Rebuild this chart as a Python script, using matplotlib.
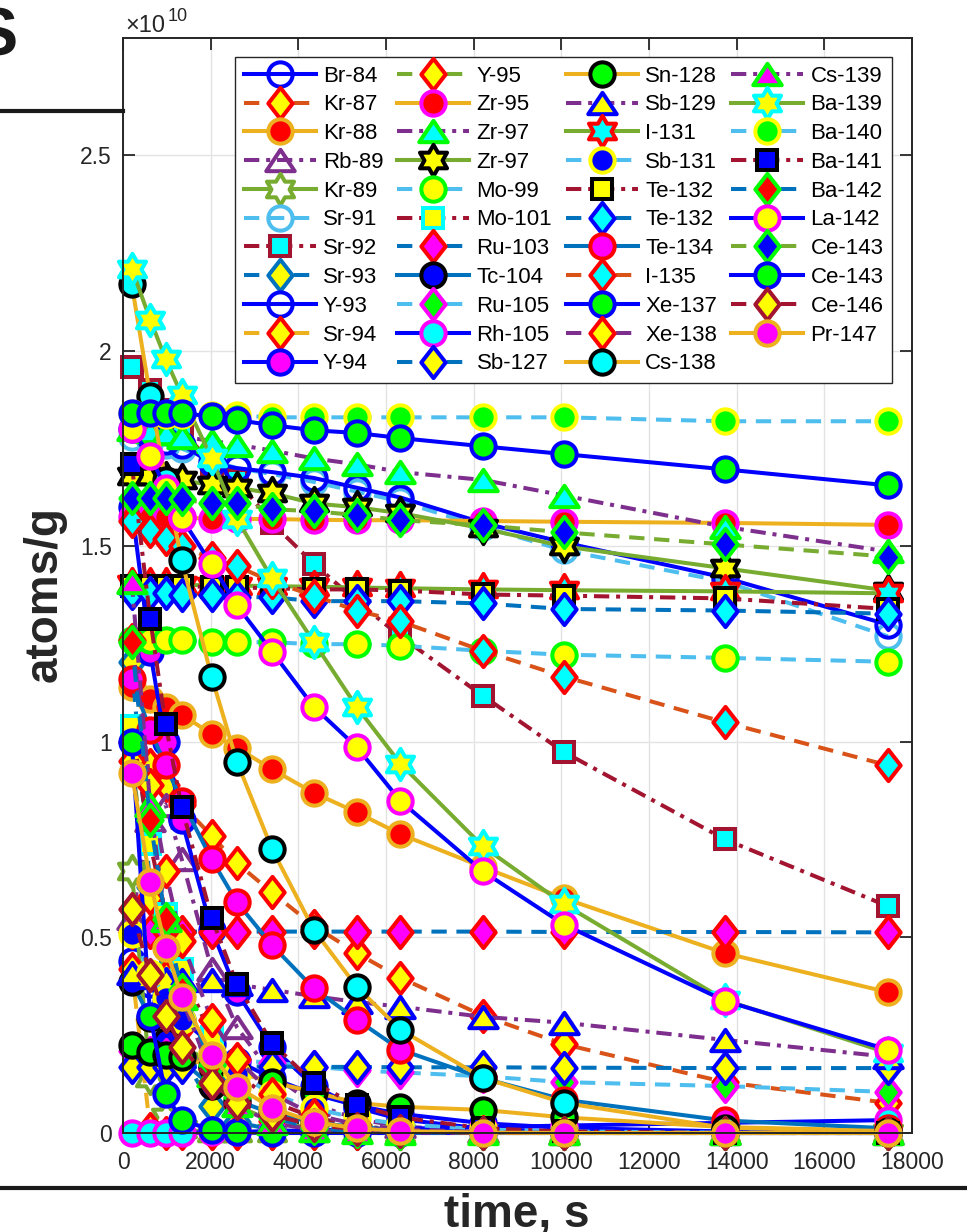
import numpy as np
import matplotlib.pyplot as plt
from matplotlib.lines import Line2D
from matplotlib.path import Path
from matplotlib.ticker import MultipleLocator, FuncFormatter

plt.rcParams['font.family'] = ['Liberation Sans', 'DejaVu Sans']

# sampling times, s
t = [200, 620, 970, 1340, 2020, 2600, 3400, 4350, 5330, 6330, 8210, 10060, 13730, 17450]

# atoms/g, in units of 1e10
br84 = [0.44, 0.38, 0.335, 0.29, 0.227, 0.185, 0.14, 0.10, 0.07, 0.049, 0.025, 0.013, 0.004, 0.001]
kr87 = [1.0, 0.94, 0.89, 0.84, 0.76, 0.69, 0.615, 0.53, 0.46, 0.397, 0.30, 0.227, 0.13, 0.077]
kr88 = [1.14, 1.11, 1.09, 1.07, 1.02, 0.985, 0.93, 0.87, 0.82, 0.764, 0.68, 0.60, 0.46, 0.36]
rb89 = [0.55, 0.80, 0.84, 0.70, 0.42, 0.27, 0.15, 0.074, 0.036, 0.017, 0.004, 0.001, 0.0, 0.0]
kr89 = [0.67, 0.14, 0.04, 0.01, 0.001, 0.0, 0.0, 0.0, 0.0, 0.0, 0.0, 0.0, 0.0, 0.0]
sr91 = [1.78, 1.77, 1.76, 1.75, 1.72, 1.70, 1.685, 1.665, 1.64, 1.615, 1.55, 1.49, 1.41, 1.27]
sr92 = [1.96, 1.90, 1.85, 1.80, 1.71, 1.67, 1.56, 1.456, 1.36, 1.27, 1.118, 0.974, 0.751, 0.58]
sr93 = [1.205, 0.63, 0.36, 0.20, 0.07, 0.028, 0.008, 0.002, 0.0, 0.0, 0.0, 0.0, 0.0, 0.0]
y93 = [1.80, 1.78, 1.77, 1.76, 1.713, 1.70, 1.69, 1.675, 1.65, 1.625, 1.56, 1.51, 1.42, 1.30]
sr94 = [0.42, 0.01, 0.0, 0.0, 0.0, 0.0, 0.0, 0.0, 0.0, 0.0, 0.0, 0.0, 0.0, 0.0]
y94 = [1.60, 1.23, 1.0, 0.80, 0.52, 0.36, 0.22, 0.12, 0.065, 0.035, 0.011, 0.003, 0.0, 0.0]
y95 = [0.95, 0.60, 0.40, 0.27, 0.13, 0.07, 0.03, 0.01, 0.005, 0.001, 0.0, 0.0, 0.0, 0.0]
zr95 = [1.575, 1.575, 1.575, 1.575, 1.57, 1.57, 1.57, 1.568, 1.567, 1.567, 1.565, 1.563, 1.56, 1.555]
zr97a = [1.80, 1.795, 1.79, 1.78, 1.77, 1.76, 1.745, 1.725, 1.71, 1.69, 1.67, 1.63, 1.55, 1.487]
zr97b = [1.68, 1.68, 1.675, 1.67, 1.656, 1.65, 1.636, 1.61, 1.60, 1.585, 1.546, 1.50, 1.444, 1.387]
mo99 = [1.26, 1.26, 1.26, 1.26, 1.255, 1.255, 1.255, 1.25, 1.25, 1.246, 1.233, 1.223, 1.215, 1.205]
mo101 = [1.04, 0.74, 0.56, 0.42, 0.245, 0.155, 0.08, 0.04, 0.018, 0.008, 0.002, 0.0, 0.0, 0.0]
ru103 = [0.515, 0.515, 0.515, 0.515, 0.515, 0.515, 0.515, 0.515, 0.515, 0.515, 0.515, 0.514, 0.514, 0.513]
tc104 = [0.385, 0.295, 0.235, 0.185, 0.12, 0.083, 0.05, 0.027, 0.015, 0.008, 0.002, 0.001, 0.0, 0.0]
ru105 = [0.21, 0.205, 0.20, 0.195, 0.19, 0.185, 0.18, 0.17, 0.16, 0.155, 0.145, 0.13, 0.12, 0.105]
rh105 = [0.0, 0.0, 0.0, 0.0, 0.002, 0.003, 0.005, 0.007, 0.009, 0.011, 0.015, 0.019, 0.026, 0.033]
sb127 = [0.17, 0.17, 0.17, 0.17, 0.17, 0.17, 0.17, 0.169, 0.169, 0.168, 0.168, 0.167, 0.166, 0.166]
sn128 = [0.226, 0.208, 0.20, 0.195, 0.17, 0.155, 0.13, 0.105, 0.077, 0.067, 0.059, 0.04, 0.015, 0.006]
sb129 = [0.41, 0.40, 0.395, 0.39, 0.39, 0.38, 0.366, 0.35, 0.335, 0.323, 0.297, 0.282, 0.238, 0.195]
i131 = [1.405, 1.405, 1.403, 1.402, 1.40, 1.40, 1.398, 1.397, 1.395, 1.393, 1.39, 1.388, 1.385, 1.38]
sb131 = [0.51, 0.41, 0.345, 0.29, 0.205, 0.152, 0.10, 0.063, 0.038, 0.023, 0.009, 0.004, 0.001, 0.0]
te132a = [1.40, 1.40, 1.40, 1.40, 1.395, 1.395, 1.393, 1.39, 1.39, 1.387, 1.377, 1.374, 1.367, 1.34]
te132b = [1.38, 1.38, 1.38, 1.375, 1.375, 1.37, 1.37, 1.36, 1.36, 1.36, 1.354, 1.34, 1.336, 1.328]
te134 = [1.16, 1.03, 0.94, 0.85, 0.70, 0.59, 0.48, 0.37, 0.29, 0.213, 0.14, 0.085, 0.032, 0.012]
i135 = [1.565, 1.54, 1.52, 1.50, 1.47, 1.449, 1.41, 1.374, 1.336, 1.308, 1.233, 1.167, 1.05, 0.94]
xe137 = [1.0, 0.30, 0.10, 0.033, 0.008, 0.002, 0.0, 0.0, 0.0, 0.0, 0.0, 0.0, 0.0, 0.0]
xe138 = [1.26, 0.89, 0.67, 0.49, 0.29, 0.19, 0.10, 0.047, 0.022, 0.01, 0.002, 0.0, 0.0, 0.0]
cs138 = [2.17, 1.885, 1.67, 1.464, 1.167, 0.949, 0.726, 0.52, 0.374, 0.264, 0.141, 0.077, 0.013, 0.005]
cs139 = [1.41, 0.84, 0.545, 0.345, 0.148, 0.071, 0.026, 0.008, 0.002, 0.001, 0.0, 0.0, 0.0, 0.0]
ba139 = [2.21, 2.08, 1.98, 1.887, 1.726, 1.57, 1.418, 1.256, 1.09, 0.944, 0.733, 0.585, 0.34, 0.205]
ba140 = [1.84, 1.84, 1.835, 1.835, 1.835, 1.835, 1.83, 1.83, 1.83, 1.83, 1.83, 1.83, 1.82, 1.82]
ba141 = [1.71, 1.315, 1.046, 0.833, 0.551, 0.38, 0.23, 0.128, 0.072, 0.04, 0.012, 0.004, 0.0, 0.0]
ba142 = [1.256, 0.80, 0.546, 0.365, 0.175, 0.093, 0.039, 0.013, 0.004, 0.001, 0.0, 0.0, 0.0, 0.0]
la142 = [1.80, 1.731, 1.65, 1.572, 1.454, 1.349, 1.231, 1.09, 0.987, 0.849, 0.669, 0.533, 0.338, 0.213]
ce143a = [1.625, 1.625, 1.625, 1.62, 1.61, 1.61, 1.595, 1.59, 1.58, 1.567, 1.554, 1.536, 1.505, 1.474]
ce143b = [1.84, 1.84, 1.84, 1.84, 1.833, 1.823, 1.81, 1.797, 1.79, 1.777, 1.756, 1.736, 1.697, 1.656]
ce146 = [0.572, 0.405, 0.298, 0.22, 0.128, 0.077, 0.046, 0.02, 0.01, 0.004, 0.0, 0.0, 0.0, 0.0]
pr147 = [0.92, 0.643, 0.474, 0.349, 0.20, 0.118, 0.064, 0.028, 0.012, 0.005, 0.001, 0.0, 0.0, 0.0]

labels = ['Br-84', 'Kr-87', 'Kr-88', 'Rb-89', 'Kr-89', 'Sr-91', 'Sr-92', 'Sr-93', 'Y-93', 'Sr-94', 'Y-94',
          'Y-95', 'Zr-95', 'Zr-97', 'Zr-97', 'Mo-99', 'Mo-101', 'Ru-103', 'Tc-104', 'Ru-105', 'Rh-105', 'Sb-127',
          'Sn-128', 'Sb-129', 'I-131', 'Sb-131', 'Te-132', 'Te-132', 'Te-134', 'I-135', 'Xe-137', 'Xe-138', 'Cs-138',
          'Cs-139', 'Ba-139', 'Ba-140', 'Ba-141', 'Ba-142', 'La-142', 'Ce-143', 'Ce-143', 'Ce-146', 'Pr-147']
series = [br84, kr87, kr88, rb89, kr89, sr91, sr92, sr93, y93, sr94, y94,
          y95, zr95, zr97a, zr97b, mo99, mo101, ru103, tc104, ru105, rh105, sb127,
          sn128, sb129, i131, sb131, te132a, te132b, te134, i135, xe137, xe138, cs138,
          cs139, ba139, ba140, ba141, ba142, la142, ce143a, ce143b, ce146, pr147]

# matlab colours
B1, OR, YE, PU, GR, LB, DR = '#0072BD', '#D95319', '#EDB120', '#7E2F8E', '#77AC30', '#4DBEEE', '#A2142F'
b, r, y, g, c, m, k, w = '#0000FF', '#FF0000', '#FFFF00', '#00FF00', '#00FFFF', '#FF00FF', '#000000', '#FFFFFF'

# line colour, line style, marker, edge, face
styles = [
    (b, '-', 'o', b, 'none'), (OR, '--', 'd', r, y), (YE, '-', 'o', YE, r), (PU, '-.', '^', PU, 'none'),
    (GR, '-', 'h', GR, w), (LB, '--', 'o', LB, 'none'), (DR, '-.', 's', DR, c), (B1, '--', 'd', B1, y),
    (b, '-', 'o', b, 'none'), (YE, '--', 'd', r, y), (b, '-', 'o', b, m),
    (GR, '--', 'd', r, y), (YE, '-', 'o', m, r), (PU, '-.', '^', g, c), (GR, '-', 'h', k, y),
    (LB, '--', 'o', g, y), (DR, '-.', 's', c, y), (B1, '--', 'd', r, m), (B1, '-', 'o', k, b),
    (LB, '--', 'd', m, g), (b, '-', 'o', m, c), (B1, '--', 'd', b, y),
    (YE, '-', 'o', k, g), (PU, '-.', '^', b, y), (GR, '-', 'h', r, c), (LB, '--', 'o', y, b),
    (DR, '-.', 's', k, y), (B1, '--', 'd', b, c), (B1, '-', 'o', r, m), (OR, '--', 'd', r, c),
    (b, '-', 'o', b, g), (PU, '--', 'd', r, y), (YE, '-', 'o', k, c),
    (PU, '-.', '^', g, m), (GR, '-', 'h', c, y), (LB, '--', 'o', y, g), (DR, '-.', 's', k, b),
    (B1, '--', 'd', g, r), (b, '-', 'o', m, y), (GR, '--', 'd', g, b), (b, '-', 'o', b, g),
    (DR, '--', 'd', DR, y), (YE, '-', 'o', YE, m),
]


def closed(vs):
    codes = [Path.MOVETO] + [Path.LINETO] * (len(vs) - 1) + [Path.CLOSEPOLY]
    return Path(list(vs) + [vs[0]], codes)


ang = np.deg2rad(90 + 30 * np.arange(12))
rad = np.where(np.arange(12) % 2 == 0, 1.0, 1 / np.sqrt(3))
hexagram = closed(list(zip(rad * np.cos(ang), rad * np.sin(ang))))
diamond = closed([(0, 1), (0.78, 0), (0, -1), (-0.78, 0)])
triangle = closed([(0, 0.75), (-1, -0.75), (1, -0.75)])

MK = {'o': 'o', 's': 's', 'd': diamond, '^': triangle, 'h': hexagram}
MS = {'o': 17.5, 's': 14.5, 'd': 22.5, '^': 20.5, 'h': 22.5}
LS = {'-': '-', '--': (0, (3.8, 2.4)), '-.': (0, (3.8, 1.7, 1.0, 1.7))}

fig = plt.figure(figsize=(9.67, 12.32), dpi=100)
ax = fig.add_axes([123 / 967, 1 - 1133 / 1232, 789 / 967, 1095 / 1232])

for vals, lab, (lc, ls, mk, ec, fc) in zip(series, labels, styles):
    ax.plot(t, vals, color=lc, ls=LS[ls], lw=2.9, marker=MK[mk], ms=MS[mk],
            mec=ec, mfc=fc, mew=2.9, label=lab, clip_on=False)

ax.set_xlim(0, 18000)
ax.set_ylim(0, 2.8)
ax.xaxis.set_major_locator(MultipleLocator(2000))
ax.yaxis.set_major_locator(MultipleLocator(0.5))
ax.yaxis.set_major_formatter(FuncFormatter(lambda v, p: '%g' % v))
ax.grid(True, color='#e3e3e3', lw=1)
ax.set_axisbelow(True)
for s in ax.spines.values():
    s.set_color('#262626')
    s.set_linewidth(1.4)
ax.tick_params(direction='in', top=True, right=True, length=8.5, width=1.3,
               labelsize=16.5, colors='#262626')
ax.tick_params(axis='x', pad=13)
ax.tick_params(axis='y', pad=8)

leg = ax.legend(ncol=4, loc='upper right', bbox_to_anchor=(0.975, 0.983), fontsize=16,
                handlelength=3.25, handletextpad=0.32, columnspacing=0.62, labelspacing=0.35,
                borderpad=0.4, borderaxespad=0, fancybox=False, framealpha=1, edgecolor='#262626')
leg.get_frame().set_linewidth(1.0)

# exponent label
fig.text(125 / 967, 1 - 32 / 1232, '\u00d710', fontsize=17, color='#262626', va='baseline')
fig.text(168 / 967, 1 - 21 / 1232, '10', fontsize=13, color='#262626', va='baseline')

# axis titles
fig.text(45 / 967, 1 - 594 / 1232, 'atoms/g', rotation=90, fontsize=33, fontweight='bold',
         ha='center', va='center', color='#262626')
fig.text(517 / 967, 1 - 1227 / 1232, 'time, s', fontsize=33, fontweight='bold',
         ha='center', va='baseline', color='#262626')

# slide remnants around the chart
fig.text(17 / 967, 1 - 56 / 1232, 'S', fontsize=49, fontweight='bold', ha='right', va='baseline',
         color='#1a1a1a')
fig.add_artist(Line2D([0, 123 / 967], [1 - 111 / 1232] * 2, transform=fig.transFigure,
                      color='#1a1a1a', lw=3))
fig.add_artist(Line2D([0, 1], [1 - 1188 / 1232] * 2, transform=fig.transFigure,
                      color='#1a1a1a', lw=3))

fig.savefig('out.png', dpi=100)
